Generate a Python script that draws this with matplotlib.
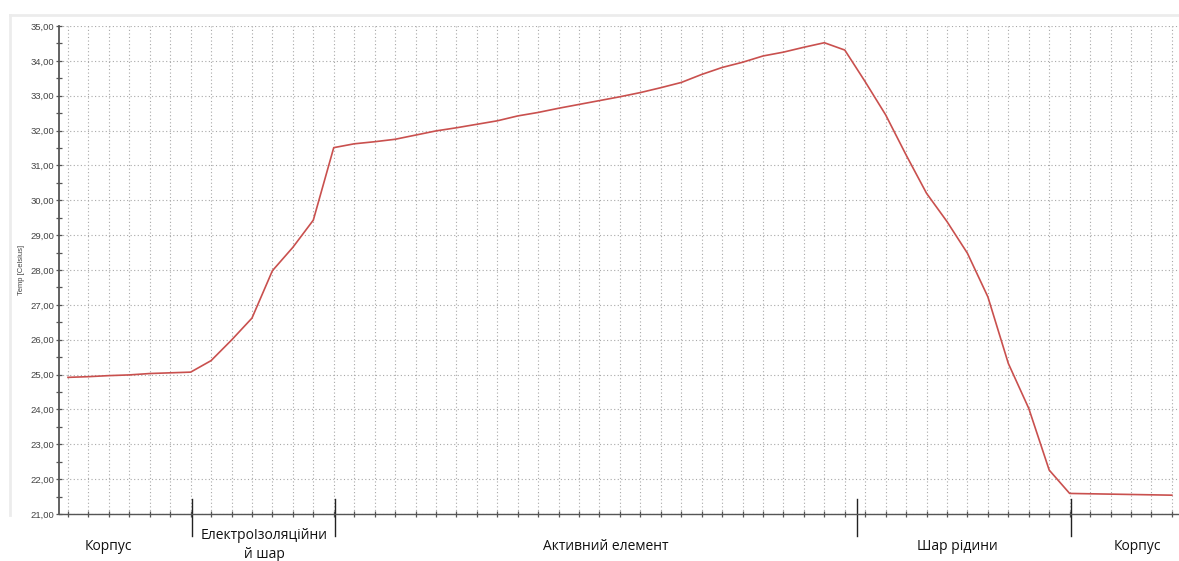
import matplotlib
matplotlib.use("Agg")
import matplotlib.pyplot as plt
from matplotlib.lines import Line2D
from matplotlib.ticker import MultipleLocator, FuncFormatter
import numpy as np

# Temperature profile across the cell (one reading per measuring point)
temperature = [
    24.92, 24.94, 24.97, 24.99, 25.03, 25.05, 25.07,          # корпус
    25.40, 25.99, 26.62, 27.98, 28.65, 29.43,                 # електроізоляційний шар
    31.51, 31.62, 31.68, 31.75, 31.87, 31.99, 32.08, 32.18,   # активний елемент
    32.28, 32.42, 32.52, 32.64, 32.75, 32.86, 32.97, 33.09,
    33.23, 33.38, 33.61, 33.81, 33.96, 34.14, 34.25, 34.39,
    34.52, 34.31,
    33.40, 32.45, 31.30, 30.20, 29.39, 28.48, 27.23, 25.32,   # шар рідини
    24.03, 22.26,
    21.59, 21.58, 21.57, 21.56, 21.55, 21.54,                 # корпус
]
points = np.arange(len(temperature))

# Layer boundaries (in measuring-point units) and layer captions
boundaries = [6.07, 13.06, 38.6, 49.07]
region_labels = ["Корпус", "ЕлектроІзоляційни\nй шар", "Активний елемент", "Шар рідини", "Корпус"]
region_centers = [1.96, 9.6, 26.3, 43.5, 52.3]

y_min, y_max = 21.0, 35.0

fig = plt.figure(figsize=(11.79, 5.61), dpi=100)
fig.patch.set_facecolor("white")

# faint panel frame
fig.add_artist(Line2D([10 / 1179, 1.0], [1 - 15 / 561, 1 - 15 / 561],
                     transform=fig.transFigure, color="#ececec", lw=2))
fig.add_artist(Line2D([10 / 1179, 10 / 1179], [1 - 15 / 561, 1 - 515 / 561],
                     transform=fig.transFigure, color="#ececec", lw=2))

ax = fig.add_axes([59 / 1179, 47 / 561, 1 - 59 / 1179, 488 / 561])

ax.plot(points, temperature, color="#c9504e", lw=1.2, solid_joinstyle="round", zorder=3)

ax.set_xlim(-0.44, 54.35)
ax.set_ylim(y_min, y_max)

# grid
ax.set_xticks(points)
ax.yaxis.set_major_locator(MultipleLocator(1.0))
ax.yaxis.set_minor_locator(MultipleLocator(0.5))
ax.grid(True, which="major", color="#a8a8a8", linestyle=(0, (1, 2.2)), lw=0.8)
ax.set_axisbelow(True)

ax.yaxis.set_major_formatter(FuncFormatter(lambda v, p: f"{v:.2f}".replace(".", ",")))
ax.tick_params(axis="y", which="major", direction="inout", length=5, width=0.9,
               color="#555555", labelsize=6.8, labelcolor="#444444", pad=1)
ax.tick_params(axis="y", which="minor", direction="inout", length=4, width=0.9, color="#555555")
ax.tick_params(axis="x", which="major", direction="inout", length=4, width=0.9,
               color="#555555", labelbottom=False)
for lbl in ax.get_yticklabels():
    lbl.set_fontfamily("Liberation Sans")

for side in ("top", "right"):
    ax.spines[side].set_visible(False)
ax.spines["left"].set_color("#555555")
ax.spines["left"].set_linewidth(1.3)
ax.spines["bottom"].set_color("#555555")
ax.spines["bottom"].set_linewidth(1.0)

ax.set_ylabel("Temp [Celsius]", fontsize=5.5, family="Liberation Sans", color="#444444", labelpad=4)

# layer boundary marks below the axis
trans = ax.get_xaxis_transform()
for b in boundaries:
    ax.add_line(Line2D([b, b], [0.031, -0.045], transform=trans, color="#222222",
                       lw=1.0, clip_on=False))

for label, cx in zip(region_labels, region_centers):
    if "\n" in label:
        first, second = label.split("\n")
        ax.text(cx, -0.045, first, transform=trans, ha="center", va="center",
                fontsize=10, family="Open Sans", color="#111111")
        ax.text(cx, -0.082, second, transform=trans, ha="center", va="center",
                fontsize=10, family="Open Sans", color="#111111")
    else:
        ax.text(cx, -0.066, label, transform=trans, ha="center", va="center",
                fontsize=10, family="Open Sans", color="#111111")

fig.savefig("out.png", dpi=100, facecolor="white")
